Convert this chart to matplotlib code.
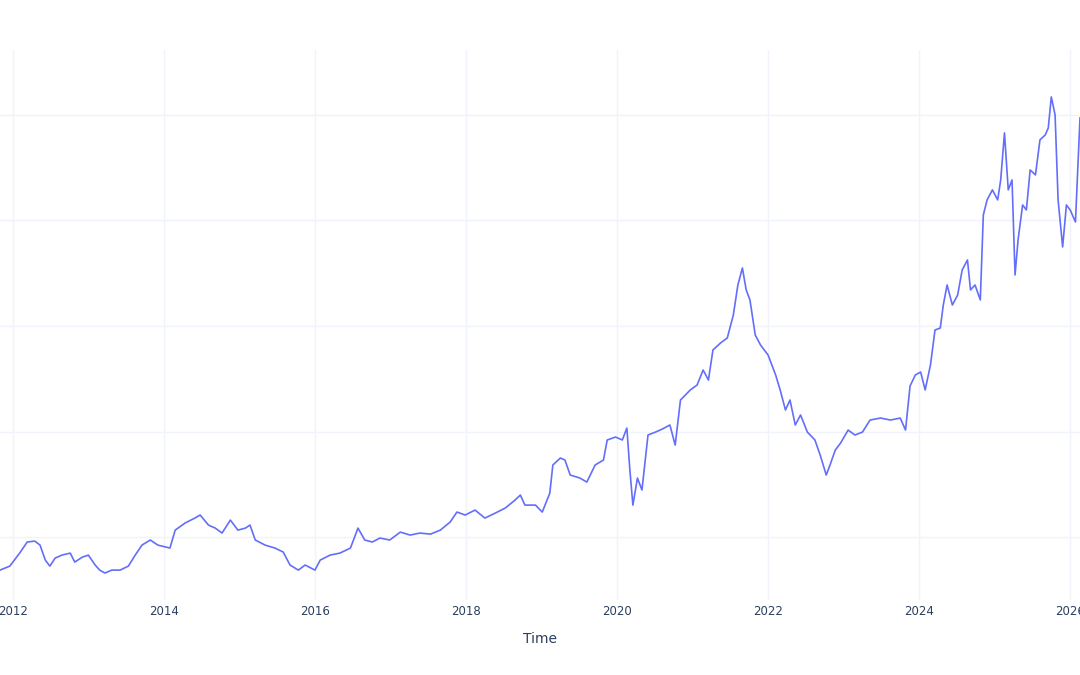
import matplotlib.pyplot as plt

# decimal year / price
years = [2011.83, 2011.96, 2012.09, 2012.19, 2012.29, 2012.36, 2012.43, 2012.49, 2012.56, 2012.65,
         2012.76, 2012.82, 2012.92, 2013.00, 2013.09, 2013.15, 2013.22, 2013.31, 2013.42, 2013.53,
         2013.62, 2013.71, 2013.82, 2013.92, 2014.08, 2014.15, 2014.28, 2014.41, 2014.48, 2014.59,
         2014.68, 2014.77, 2014.88, 2014.98, 2015.08, 2015.14, 2015.21, 2015.34, 2015.47, 2015.58,
         2015.67, 2015.78, 2015.87, 2016.00, 2016.07, 2016.20, 2016.33, 2016.47, 2016.57, 2016.66,
         2016.76, 2016.86, 2016.99, 2017.13, 2017.26, 2017.39, 2017.53, 2017.66, 2017.79, 2017.88,
         2017.99, 2018.12, 2018.25, 2018.39, 2018.52, 2018.65, 2018.72, 2018.78, 2018.92, 2019.01,
         2019.11, 2019.15, 2019.25, 2019.31, 2019.38, 2019.51, 2019.60, 2019.71, 2019.82, 2019.87,
         2019.98, 2020.07, 2020.13, 2020.17, 2020.21, 2020.27, 2020.33, 2020.41, 2020.51, 2020.60,
         2020.70, 2020.77, 2020.84, 2020.97, 2021.06, 2021.14, 2021.21, 2021.27, 2021.37, 2021.46,
         2021.54, 2021.60, 2021.66, 2021.71, 2021.76, 2021.83, 2021.90, 2022.00, 2022.10, 2022.16,
         2022.23, 2022.29, 2022.36, 2022.43, 2022.52, 2022.62, 2022.69, 2022.77, 2022.82, 2022.89,
         2022.96, 2023.06, 2023.15, 2023.25, 2023.35, 2023.49, 2023.62, 2023.75, 2023.82, 2023.88,
         2023.95, 2024.02, 2024.08, 2024.15, 2024.21, 2024.28, 2024.32, 2024.37, 2024.44, 2024.51,
         2024.57, 2024.64, 2024.68, 2024.74, 2024.81, 2024.85, 2024.90, 2024.97, 2025.04, 2025.08,
         2025.13, 2025.18, 2025.23, 2025.27, 2025.31, 2025.37, 2025.42, 2025.47, 2025.54, 2025.60,
         2025.67, 2025.71, 2025.75, 2025.80, 2025.84, 2025.90, 2025.95, 2026.00, 2026.07, 2026.13]
prices = [68.7, 72.5, 84.8, 95.3, 96.2, 92.4, 78.2, 72.5, 80.1, 82.9,
          84.8, 76.3, 81.0, 82.9, 73.5, 68.7, 65.9, 68.7, 68.7, 72.5,
          82.9, 92.4, 97.2, 92.4, 89.6, 106.6, 113.3, 118.0, 120.9, 111.4,
          108.5, 103.8, 116.1, 106.6, 108.5, 111.4, 97.2, 92.4, 89.6, 85.8,
          73.5, 68.7, 73.5, 68.7, 78.2, 82.9, 84.8, 89.6, 108.5, 97.2,
          95.3, 99.1, 97.2, 104.7, 101.9, 103.8, 102.8, 106.6, 114.2, 123.7,
          120.9, 125.6, 118.0, 122.8, 127.5, 135.1, 139.8, 130.3, 130.3, 123.7,
          141.7, 168.3, 174.9, 173.0, 158.8, 155.9, 152.1, 168.3, 173.0, 192.0,
          194.8, 192.0, 203.3, 163.5, 130.3, 155.9, 144.6, 196.7, 199.5, 202.4,
          206.2, 187.2, 229.9, 239.4, 244.1, 258.3, 248.8, 277.3, 283.9, 288.7,
          310.5, 338.9, 355.0, 334.2, 324.7, 291.5, 282.0, 272.5, 253.6, 239.4,
          220.4, 229.9, 206.2, 215.7, 199.5, 192.0, 177.7, 158.8, 168.3, 182.5,
          189.1, 201.4, 196.7, 199.5, 210.9, 212.8, 210.9, 212.8, 201.4, 243.2,
          253.6, 256.4, 239.4, 263.1, 296.2, 298.1, 319.9, 338.9, 319.9, 329.4,
          353.1, 362.6, 334.2, 338.9, 324.7, 405.3, 419.5, 429.0, 419.5, 438.4,
          483.0, 429.0, 438.4, 348.4, 381.6, 414.7, 410.0, 447.9, 443.2, 476.4,
          481.1, 487.7, 517.1, 500.1, 419.5, 374.9, 414.7, 410.0, 398.6, 497.2]

fig = plt.figure(figsize=(10.8, 6.75), dpi=100)
ax = fig.add_axes([0, 0.111, 1, 0.815])
ax.plot(years, prices, color='#636efa', lw=1.2)
ax.set_xlim(2011.83, 2026.13)
ax.set_ylim(40.3, 561.6)
ax.set_xticks(range(2012, 2027, 2))
ax.set_yticks([100, 200, 300, 400, 500])
ax.grid(True, color='#f0f3f9', lw=1)
ax.set_axisbelow(True)
for s in ax.spines.values():
    s.set_visible(False)
ax.tick_params(axis='both', length=0, colors='#2a3f5f', labelsize=8.5)
ax.tick_params(axis='y', labelleft=False)
ax.set_xlabel('Time', color='#2a3f5f', fontsize=10, labelpad=10)
fig.savefig('out.png')
